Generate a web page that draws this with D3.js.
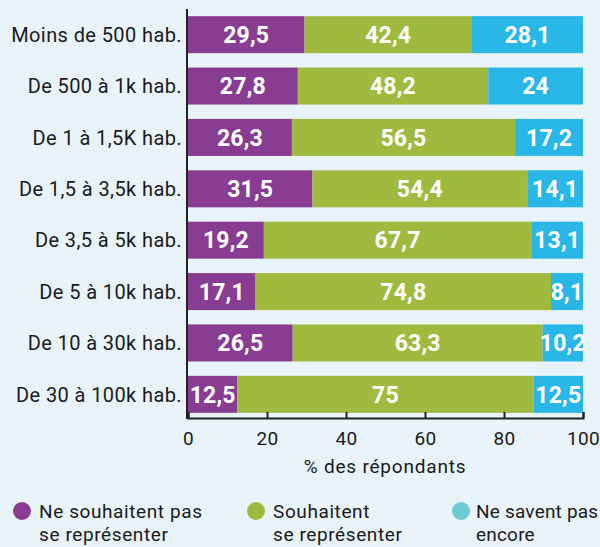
<!DOCTYPE html>
<html>
<head>
<meta charset="utf-8">
<script src="https://cdn.jsdelivr.net/npm/d3@7"></script>
<style>
  body { margin: 0; background: #e8f3fa; }
  svg { display: block; font-family: Roboto, sans-serif; letter-spacing: 0.4px; }
</style>
</head>
<body>
<div id="chart"></div>
<script>
const categories = ["Moins de 500 hab.", "De 500 à 1k hab.", "De 1 à 1,5K hab.", "De 1,5 à 3,5k hab.",
  "De 3,5 à 5k hab.", "De 5 à 10k hab.", "De 10 à 30k hab.", "De 30 à 100k hab."];
const nePas = [29.5, 27.8, 26.3, 31.5, 19.2, 17.1, 26.5, 12.5];
const souhaitent = [42.4, 48.2, 56.5, 54.4, 67.7, 74.8, 63.3, 75];
const neSaventPas = [28.1, 24, 17.2, 14.1, 13.1, 8.1, 10.2, 12.5];
const xTicks = [0, 20, 40, 60, 80, 100];
const seriesNames = [["Ne souhaitent pas", "se représenter"], ["Souhaitent", "se représenter"], ["Ne savent pas", "encore"]];
const barColors = ["#883d92", "#9fba3f", "#29b7e8"];
const legendColors = ["#883d92", "#9fba3f", "#6ecbd6"];

const width = 600, height = 547;
const svg = d3.select("#chart").append("svg")
    .attr("width", width)
    .attr("height", height);

const x = d3.scaleLinear().domain([0, 100]).range([188, 583]);
const y = d3.scaleBand().domain(categories).range([10, 419]).paddingInner(0.28).paddingOuter(0.12);

const rows = categories.map((c, i) => ({ cat: c, vals: [nePas[i], souhaitent[i], neSaventPas[i]] }));

// stacked segments
rows.forEach(r => {
    let acc = 0;
    r.vals.forEach((v, k) => {
        const x0 = acc, x1 = acc + v;
        acc = x1;
        svg.append("rect")
            .attr("x", x(x0))
            .attr("y", y(r.cat))
            .attr("width", x(x1) - x(x0))
            .attr("height", y.bandwidth())
            .attr("fill", barColors[k]);
        svg.append("text")
            .attr("x", (x(x0) + x(x1)) / 2)
            .attr("y", y(r.cat) + y.bandwidth() / 2)
            .attr("dy", "0.36em")
            .attr("text-anchor", "middle")
            .attr("fill", "#fff")
            .attr("font-weight", "bold")
            .attr("font-size", 23)
            .attr("letter-spacing", "0.2px")
            .text(String(v).replace(".", ","));
    });
});

// category labels
svg.selectAll(".cat")
    .data(categories)
    .enter().append("text")
    .attr("x", 182)
    .attr("y", d => y(d) + y.bandwidth() / 2)
    .attr("dy", "0.36em")
    .attr("text-anchor", "end")
    .attr("font-size", 20)
    .attr("fill", "#1a1a1a")
    .text(d => d);

// left axis line
svg.append("line")
    .attr("x1", 187).attr("x2", 187)
    .attr("y1", 9).attr("y2", 419)
    .attr("stroke", "#222").attr("stroke-width", 2);

// bottom axis
const xAxis = svg.append("g")
    .attr("transform", "translate(0,418)")
    .call(d3.axisBottom(x).tickValues(xTicks).tickSize(-6).tickPadding(14).tickSizeOuter(-6));
xAxis.select(".domain").attr("stroke", "#222").attr("stroke-width", 2);
xAxis.selectAll(".tick line").attr("stroke", "#222").attr("stroke-width", 2);
xAxis.selectAll(".tick text")
    .attr("font-family", "Roboto, sans-serif")
    .attr("font-size", 19)
    .attr("fill", "#1a1a1a");

svg.append("text")
    .attr("x", 385)
    .attr("y", 473)
    .attr("text-anchor", "middle")
    .attr("font-size", 19)
    .attr("letter-spacing", "0.8px")
    .attr("fill", "#1a1a1a")
    .text("% des répondants");

// legend
const legendX = [22, 256, 461];
seriesNames.forEach((lines, k) => {
    const g = svg.append("g").attr("transform", `translate(${legendX[k]},511)`);
    g.append("circle").attr("r", 9).attr("fill", legendColors[k]);
    lines.forEach((t, j) => {
        g.append("text")
            .attr("x", k === 2 ? 15 : 17)
            .attr("y", 7 + j * 23)
            .attr("font-size", 19)
            .attr("letter-spacing", k === 2 ? "0.2px" : "0.6px")
            .attr("fill", "#1a1a1a")
            .text(t);
    });
});
</script>
</body>
</html>
